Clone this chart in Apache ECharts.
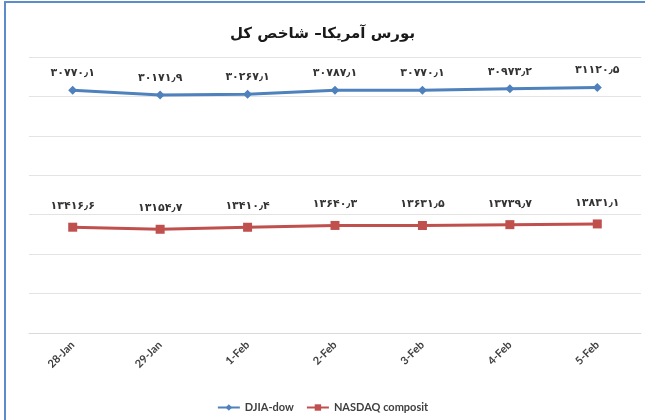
<!DOCTYPE html>
<html>
<head>
<meta charset="utf-8">
<script src="https://cdn.jsdelivr.net/npm/echarts@6/dist/echarts.min.js"></script>
<style>
  html, body { margin: 0; padding: 0; background: #fff; }
  #chart { width: 645px; height: 420px; }
</style>
</head>
<body>
<div id="chart"></div>
<script>
// داده‌ها
const categories = ['28-Jan', '29-Jan', '1-Feb', '2-Feb', '3-Feb', '4-Feb', '5-Feb'];
const djiaValues = [30770.1, 30171.9, 30267.1, 30787.1, 30770.1, 30973.2, 31120.5];
const nasdaqValues = [13416.6, 13154.7, 13410.4, 13640.3, 13631.5, 13739.7, 13831.1];
const seriesNames = ['DJIA-dow', 'NASDAQ composit'];
const chartTitle = 'بورس آمریکا– شاخص کل';

// تبدیل اعداد به ارقام فارسی
function toPersian(v) {
    const digits = '۰۱۲۳۴۵۶۷۸۹';
    return v.toFixed(1).replace(/[0-9]/g, d => digits[d]).replace('.', '٫');
}

const chart = echarts.init(document.getElementById('chart'));

const labelStyle = {
    show: true,
    position: 'top',
    fontFamily: 'DejaVu Sans',
    fontWeight: 'bold',
    fontSize: 11,
    color: '#333',
    formatter: p => toPersian(p.value)
};

chart.setOption({
    animation: false,
    graphic: [{
        type: 'rect',
        shape: { x: 5, y: 2, width: 700, height: 460 },
        style: { fill: 'none', stroke: '#5b8ccc', lineWidth: 2 }
    }],
    title: {
        text: chartTitle,
        left: 'center',
        top: 22,
        textStyle: {
            fontFamily: 'DejaVu Sans',
            fontWeight: 'bold',
            fontSize: 15,
            color: '#1a1a1a'
        }
    },
    legend: {
        bottom: 2,
        left: 'center',
        itemWidth: 22,
        itemHeight: 8,
        itemGap: 12,
        textStyle: { fontFamily: 'Lato', fontWeight: 'bold', fontSize: 11, color: '#404040' },
        data: seriesNames
    },
    grid: { left: 29, right: 4, top: 57, bottom: 87 },
    xAxis: {
        type: 'category',
        data: categories,
        axisLine: { lineStyle: { color: '#d9d9d9' } },
        axisTick: { show: false },
        axisLabel: {
            rotate: 45,
            margin: 10,
            fontFamily: 'Lato',
            fontWeight: 'bold',
            fontSize: 11,
            color: '#404040'
        }
    },
    yAxis: {
        type: 'value',
        min: 0,
        max: 35000,
        interval: 5000,
        axisLabel: { show: false },
        axisLine: { show: false },
        axisTick: { show: false },
        splitLine: { lineStyle: { color: '#e3e3e3', width: 1 } }
    },
    series: [
        {
            name: seriesNames[0],
            type: 'line',
            data: djiaValues,
            symbol: 'diamond',
            symbolSize: 9,
            lineStyle: { color: '#4f81bd', width: 3 },
            itemStyle: { color: '#4f81bd' },
            label: Object.assign({}, labelStyle, { distance: 7 })
        },
        {
            name: seriesNames[1],
            type: 'line',
            data: nasdaqValues,
            symbol: 'rect',
            symbolSize: 9,
            lineStyle: { color: '#c0504d', width: 3 },
            itemStyle: { color: '#c0504d' },
            label: Object.assign({}, labelStyle, { distance: 11 })
        }
    ]
});
</script>
</body>
</html>
